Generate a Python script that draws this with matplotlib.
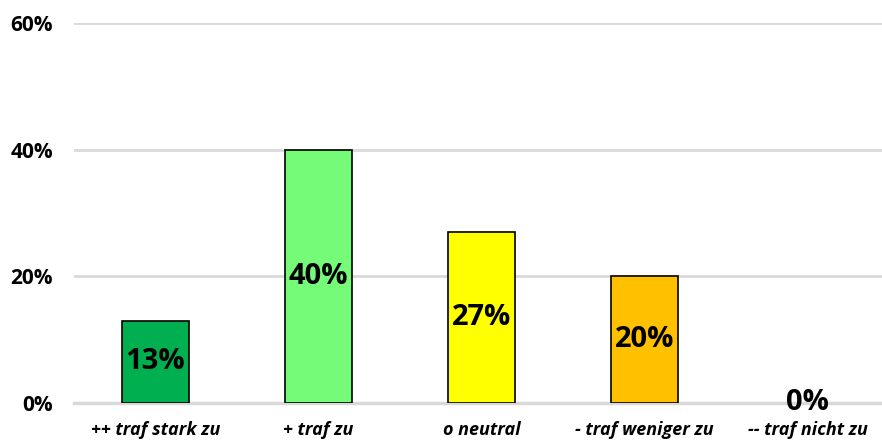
import matplotlib
matplotlib.use('Agg')
import matplotlib.pyplot as plt
from matplotlib.ticker import FuncFormatter

categories = ['++ traf stark zu', '+ traf zu', 'o neutral', '- traf weniger zu', '-- traf nicht zu']
values = [13, 40, 27, 20, 0]
colors = ['#00b050', '#75fb78', '#ffff00', '#ffc000', '#ffffff']
yticks = [0, 20, 40, 60]

plt.rcParams['font.family'] = ['Open Sans', 'DejaVu Sans']

fig = plt.figure(figsize=(8.82, 4.41), dpi=100, facecolor='w')
ax = fig.add_axes([74/882, 38/441, 815/882, 380/441])

x = range(len(categories))
for i, v in zip(x, values):
    if v > 0:
        ax.bar(i, v, width=0.405, color=colors[i], edgecolor='black', linewidth=1.2, zorder=3)
    ax.text(i, v/2.0, '{}%'.format(v), ha='center', va='center',
            fontsize=21, fontweight='bold', color='black', zorder=4)

ax.set_xlim(-0.5, 4.5)
ax.set_ylim(0, 60)
ax.set_yticks(yticks)
ax.yaxis.set_major_formatter(FuncFormatter(lambda v, p: '{:.0f}%'.format(v)))
ax.set_xticks(list(x))
ax.set_xticklabels(categories, fontsize=13, fontweight='bold', fontstyle='italic')
ax.tick_params(axis='both', length=0)
ax.tick_params(axis='y', pad=15, labelsize=15)
ax.tick_params(axis='x', pad=13)
for lab in ax.get_yticklabels():
    lab.set_fontweight('bold')

ax.grid(axis='y', color='#d9d9d9', linewidth=2, zorder=0)
for s in ['top', 'right', 'left']:
    ax.spines[s].set_visible(False)
ax.spines['bottom'].set_color('#d9d9d9')
ax.spines['bottom'].set_linewidth(2.5)
ax.spines['bottom'].set_zorder(2)

fig.savefig('out.png', dpi=100)
